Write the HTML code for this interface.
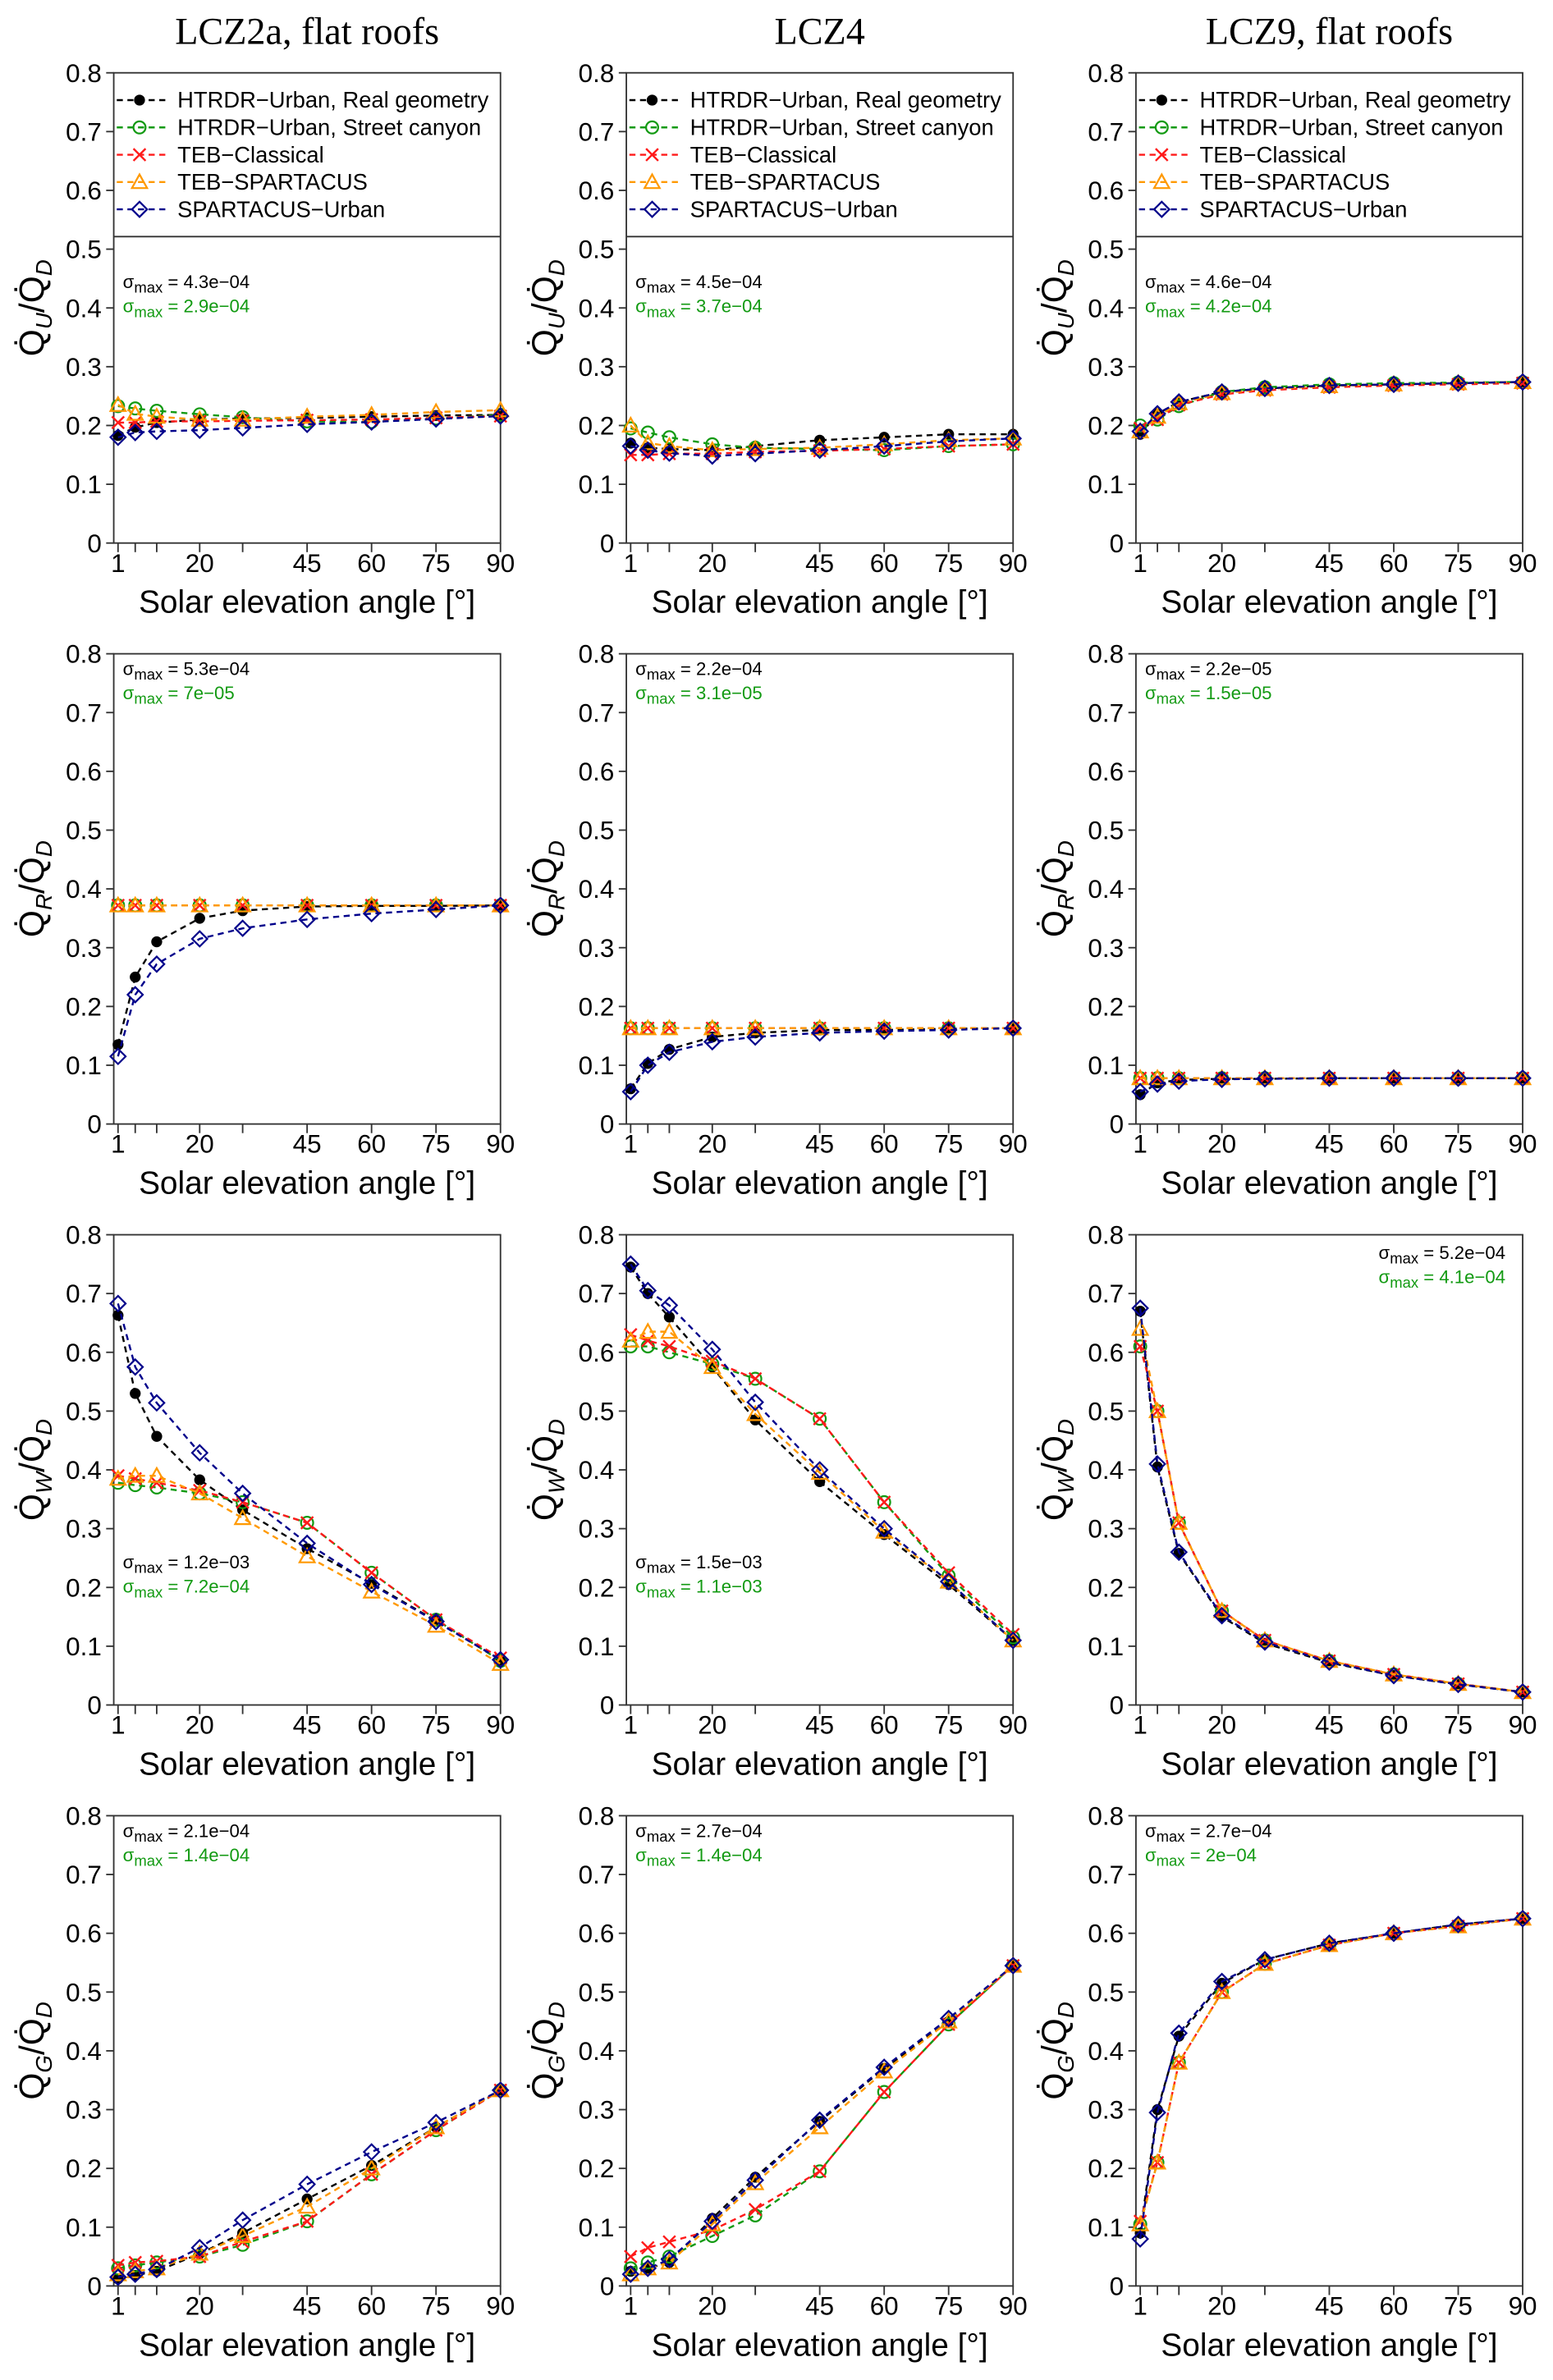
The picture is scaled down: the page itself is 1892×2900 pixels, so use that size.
<!DOCTYPE html>
<html><head><meta charset="utf-8">
<style>
html,body{margin:0;padding:0;background:#fff;}
svg{display:block;}
text{font-family:"Liberation Sans",Arial,sans-serif;}
.title{font-family:"Liberation Serif",serif;font-size:25px;}
</style></head>
<body>
<svg id="fig" xmlns="http://www.w3.org/2000/svg" width="1892" height="2900" viewBox="0 0 1024 1569" preserveAspectRatio="none"></svg>
<script>
const xVals=[1,5,10,20,30,45,60,75,90];
const xTickVals=[1,5,10,20,30,45,60,75,90];
const xTickLabels=["1","","","20","","45","60","75","90"];
const yTickVals=[0,0.1,0.2,0.3,0.4,0.5,0.6,0.7,0.8];
const yTickLabels=["0","0.1","0.2","0.3","0.4","0.5","0.6","0.7","0.8"];
const colTitles=["LCZ2a, flat roofs","LCZ4","LCZ9, flat roofs"];
const rowSubs=["U","R","W","G"];
const seriesNames=["HTRDR\u2212Urban, Real geometry","HTRDR\u2212Urban, Street canyon","TEB\u2212Classical","TEB\u2212SPARTACUS","SPARTACUS\u2212Urban"];
const seriesColors=["#000000","#129a12","#ff1a1a","#ff9900","#00008b"];
const qU_lcz2a=[[0.183,0.197,0.205,0.21,0.212,0.213,0.215,0.217,0.218],[0.233,0.229,0.225,0.219,0.214,0.207,0.206,0.212,0.218],[0.205,0.205,0.207,0.207,0.208,0.209,0.21,0.213,0.216],[0.235,0.22,0.215,0.21,0.21,0.215,0.218,0.223,0.226],[0.18,0.188,0.19,0.192,0.196,0.202,0.206,0.211,0.216]];
const qU_lcz4=[[0.17,0.162,0.16,0.158,0.165,0.175,0.18,0.185,0.185],[0.195,0.188,0.18,0.168,0.162,0.16,0.158,0.165,0.168],[0.15,0.15,0.152,0.152,0.155,0.157,0.16,0.165,0.168],[0.2,0.17,0.165,0.158,0.16,0.162,0.168,0.175,0.178],[0.165,0.158,0.153,0.148,0.152,0.158,0.165,0.173,0.178]];
const qU_lcz9=[[0.185,0.22,0.24,0.257,0.263,0.268,0.27,0.272,0.274],[0.2,0.21,0.233,0.257,0.265,0.27,0.272,0.273,0.274],[0.195,0.21,0.235,0.253,0.26,0.265,0.268,0.27,0.272],[0.19,0.215,0.238,0.255,0.262,0.267,0.27,0.272,0.274],[0.19,0.22,0.24,0.257,0.263,0.268,0.27,0.272,0.274]];
const qR_lcz2a=[[0.135,0.25,0.31,0.35,0.363,0.37,0.371,0.371,0.372],[0.372,0.372,0.372,0.372,0.372,0.372,0.372,0.372,0.372],[0.372,0.372,0.372,0.372,0.372,0.372,0.372,0.372,0.372],[0.372,0.372,0.372,0.372,0.372,0.372,0.372,0.372,0.372],[0.115,0.22,0.272,0.315,0.333,0.348,0.358,0.365,0.372]];
const qR_lcz4=[[0.06,0.103,0.127,0.148,0.155,0.16,0.16,0.162,0.163],[0.163,0.163,0.163,0.163,0.163,0.163,0.163,0.163,0.163],[0.163,0.163,0.163,0.163,0.163,0.163,0.163,0.163,0.163],[0.163,0.163,0.163,0.163,0.163,0.163,0.163,0.163,0.163],[0.055,0.1,0.122,0.14,0.148,0.155,0.158,0.16,0.163]];
const qR_lcz9=[[0.05,0.07,0.075,0.077,0.077,0.078,0.078,0.078,0.078],[0.078,0.078,0.078,0.078,0.078,0.078,0.078,0.078,0.078],[0.078,0.078,0.078,0.078,0.078,0.078,0.078,0.078,0.078],[0.078,0.078,0.078,0.078,0.078,0.078,0.078,0.078,0.078],[0.055,0.068,0.073,0.076,0.077,0.078,0.078,0.078,0.078]];
const qW_lcz2a=[[0.663,0.53,0.457,0.383,0.332,0.266,0.207,0.143,0.077],[0.378,0.374,0.37,0.36,0.345,0.31,0.225,0.145,0.075],[0.39,0.385,0.378,0.365,0.345,0.31,0.225,0.145,0.08],[0.385,0.39,0.39,0.36,0.318,0.253,0.193,0.135,0.07],[0.683,0.575,0.514,0.429,0.36,0.275,0.205,0.142,0.077]];
const qW_lcz4=[[0.745,0.7,0.66,0.575,0.485,0.38,0.29,0.205,0.11],[0.61,0.61,0.6,0.58,0.555,0.487,0.345,0.22,0.115],[0.63,0.62,0.61,0.585,0.555,0.487,0.345,0.225,0.12],[0.62,0.635,0.635,0.575,0.495,0.395,0.295,0.21,0.11],[0.75,0.705,0.68,0.605,0.515,0.4,0.3,0.21,0.11]];
const qW_lcz9=[[0.67,0.405,0.258,0.15,0.105,0.072,0.05,0.035,0.022],[0.61,0.5,0.31,0.16,0.11,0.075,0.052,0.036,0.022],[0.61,0.5,0.31,0.16,0.11,0.075,0.052,0.036,0.022],[0.64,0.5,0.31,0.16,0.11,0.075,0.052,0.036,0.022],[0.675,0.41,0.26,0.152,0.107,0.073,0.05,0.035,0.022]];
const qG_lcz2a=[[0.012,0.018,0.025,0.055,0.09,0.148,0.205,0.27,0.333],[0.03,0.035,0.04,0.05,0.07,0.11,0.19,0.265,0.333],[0.035,0.04,0.042,0.05,0.075,0.11,0.19,0.265,0.333],[0.02,0.025,0.03,0.055,0.085,0.135,0.2,0.27,0.333],[0.015,0.02,0.028,0.065,0.112,0.173,0.228,0.278,0.333]];
const qG_lcz4=[[0.025,0.03,0.04,0.115,0.185,0.28,0.37,0.45,0.545],[0.03,0.04,0.05,0.085,0.12,0.195,0.33,0.445,0.545],[0.05,0.065,0.075,0.095,0.13,0.195,0.33,0.445,0.545],[0.02,0.03,0.04,0.105,0.175,0.27,0.365,0.45,0.545],[0.02,0.03,0.045,0.11,0.18,0.282,0.372,0.455,0.545]];
const qG_lcz9=[[0.09,0.3,0.425,0.515,0.555,0.583,0.6,0.615,0.625],[0.105,0.21,0.38,0.5,0.548,0.58,0.6,0.612,0.625],[0.11,0.21,0.38,0.5,0.548,0.58,0.6,0.612,0.625],[0.105,0.21,0.38,0.5,0.548,0.58,0.6,0.612,0.625],[0.08,0.295,0.43,0.518,0.555,0.583,0.6,0.615,0.625]];
const panelData=[[qU_lcz2a,qU_lcz4,qU_lcz9],[qR_lcz2a,qR_lcz4,qR_lcz9],[qW_lcz2a,qW_lcz4,qW_lcz9],[qG_lcz2a,qG_lcz4,qG_lcz9]];
const sigmaBlack=[["4.3e\u221204","4.5e\u221204","4.6e\u221204"],["5.3e\u221204","2.2e\u221204","2.2e\u221205"],["1.2e\u221203","1.5e\u221203","5.2e\u221204"],["2.1e\u221204","2.7e\u221204","2.7e\u221204"]];
const sigmaGreen=[["2.9e\u221204","3.7e\u221204","4.2e\u221204"],["7e\u221205","3.1e\u221205","1.5e\u221205"],["7.2e\u221204","1.1e\u221203","4.1e\u221204"],["1.4e\u221204","1.4e\u221204","2e\u221204"]];

const NS="http://www.w3.org/2000/svg";
const svg=document.getElementById('fig');
const colX=[75,413,749], W=255, rowY=[48,431,814,1197], H=310;
function mk(tag,attrs,parent){const e=document.createElementNS(NS,tag);for(const k in attrs)e.setAttribute(k,attrs[k]);(parent||svg).appendChild(e);return e;}
function xScale(c,v){return colX[c]+(v-0)/(90-0)*W;}
function yScale(r,v){return rowY[r]+H-(v/0.8)*H;}
function marker(g,s,x,y){
  const col=seriesColors[s];let m;
  if(s===0){m=mk('circle',{cx:x,cy:y,r:3.6,fill:col},g);}
  else if(s===1){m=mk('circle',{cx:x,cy:y,r:4,fill:'none',stroke:col,'stroke-width':1.2},g);}
  else if(s===2){m=mk('path',{d:`M${x-4},${y-4}L${x+4},${y+4}M${x-4},${y+4}L${x+4},${y-4}`,stroke:col,'stroke-width':1.3,fill:'none'},g);}
  else if(s===3){m=mk('path',{d:`M${x},${y-5}L${x+5},${y+4}L${x-5},${y+4}Z`,stroke:col,'stroke-width':1.2,fill:'none'},g);}
  else {m=mk('path',{d:`M${x},${y-5}L${x+5},${y}L${x},${y+5}L${x-5},${y}Z`,stroke:col,'stroke-width':1.2,fill:'none'},g);}
  return m;
}
colTitles.forEach((t,c)=>{const e=mk('text',{x:colX[c]+W/2,y:29,'text-anchor':'middle',class:'title'});e.textContent=t;

});
for(let r=0;r<4;r++)for(let c=0;c<3;c++){
  const g=mk('g',{});
  
  
  const x0=colX[c],y0=rowY[r];
  const frame=mk('rect',{x:x0,y:y0,width:W,height:H,fill:'none',stroke:'#333','stroke-width':1},g);
  
  
  yTickVals.forEach((v,i)=>{const y=yScale(r,v);mk('line',{x1:x0-5,x2:x0,y1:y,y2:y,stroke:'#333'},g);
    const t=mk('text',{x:x0-8,y:y+6,'text-anchor':'end','font-size':17},g);t.textContent=yTickLabels[i];
    
    });
  xTickVals.forEach((v,i)=>{const x=xScale(c,v);mk('line',{x1:x,x2:x,y1:y0+H,y2:y0+H+6,stroke:'#333'},g);
    if(xTickLabels[i]){const t=mk('text',{x:x,y:y0+H+19,'text-anchor':'middle','font-size':17},g);t.textContent=xTickLabels[i];
    
    }});
  const xl=mk('text',{x:x0+W/2,y:y0+H+46,'text-anchor':'middle','font-size':21},g);xl.textContent='Solar elevation angle [°]';
  
  
  const yl=mk('text',{transform:`translate(${x0-46},${y0+H/2}) rotate(-90)`,'text-anchor':'middle','font-size':23},g);
  yl.innerHTML=`Q\u0307<tspan font-style="italic" font-size="15" dy="5">${rowSubs[r]}</tspan><tspan dy="-5">/Q\u0307</tspan><tspan font-style="italic" font-size="15" dy="5">D</tspan>`;
  
  
  const data=panelData[r][c];
  for(let s=0;s<5;s++){
    const pts=data[s].map((v,i)=>xScale(c,xVals[i]).toFixed(1)+','+yScale(r,v).toFixed(1)).join(' ');
    const sg=mk('g',{},g);
    
    
    mk('polyline',{points:pts,fill:'none',stroke:seriesColors[s],'stroke-width':1.3,'stroke-dasharray':'4,3'},sg);
    data[s].forEach((v,i)=>{const m=marker(sg,s,xScale(c,xVals[i]),yScale(r,v));
      
      });
  }
  let sx=x0+6, sy=y0+142;
  if(r===1||r===3){sy=y0+14;}
  if(r===2&&c<2){sy=y0+220;}
  if(r===2&&c===2){sy=y0+16;sx=x0+160;}
  [[sigmaBlack,'#000'],[sigmaGreen,'#129a12']].forEach(([arr,col],k)=>{
    const t=mk('text',{x:sx,y:sy+k*16,'font-size':12,fill:col},g);
    t.innerHTML=`σ<tspan font-size="10" dy="3">max</tspan><tspan dy="-3"> = ${arr[r][c]}</tspan>`;
    
    
  });
  if(r===0){
    const lg=mk('g',{},g);
    
    
    mk('line',{x1:x0,x2:x0+W,y1:y0+108,y2:y0+108,stroke:'#333'},lg);
    for(let s=0;s<5;s++){
      const ly=y0+18+s*18;
      const e=mk('g',{},lg);
      
      
      mk('line',{x1:x0+2,x2:x0+34,y1:ly,y2:ly,stroke:seriesColors[s],'stroke-width':1.3,'stroke-dasharray':'4,3'},e);
      marker(e,s,x0+17,ly);
      const t=mk('text',{x:x0+42,y:ly+5,'font-size':14.8},e);t.textContent=seriesNames[s];
    }
  }
}
</script>
</body></html>
